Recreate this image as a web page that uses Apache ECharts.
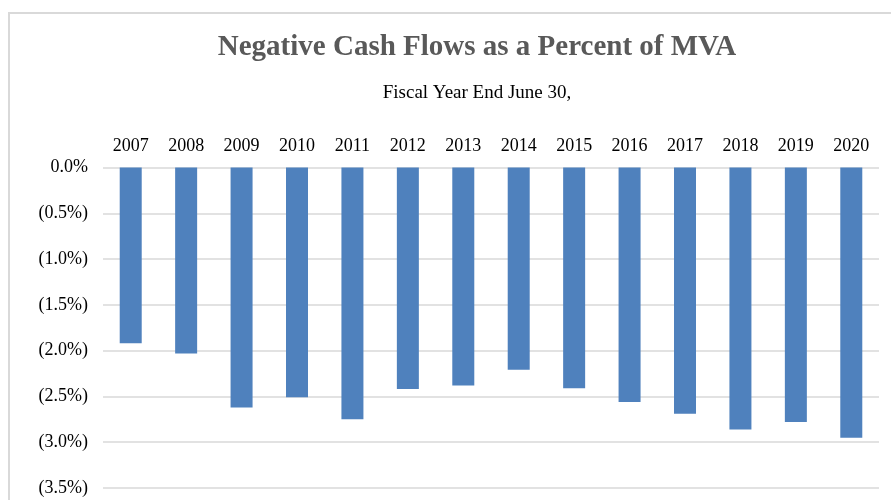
<!DOCTYPE html>
<html>
<head>
<meta charset="utf-8">
<script src="https://cdn.jsdelivr.net/npm/echarts@6/dist/echarts.min.js"></script>
<style>
  html, body { margin: 0; padding: 0; width: 891px; height: 500px; overflow: hidden; background: #fff; }
  #frame { position: absolute; left: 8px; top: 12px; width: 1000px; height: 600px; border: 2px solid #d9d9d9; box-sizing: border-box; }
  #chart { position: absolute; left: 0; top: 0; width: 891px; height: 500px; }
</style>
</head>
<body>
<div id="frame"></div>
<div id="chart"></div>
<script>
// Fiscal years shown across the top axis
const years = ['2007', '2008', '2009', '2010', '2011', '2012', '2013',
               '2014', '2015', '2016', '2017', '2018', '2019', '2020'];

// Negative cash flows as a percent of market value of assets (%)
const cashFlowPct = [-1.92, -2.03, -2.62, -2.51, -2.75, -2.42, -2.38,
                     -2.21, -2.41, -2.56, -2.69, -2.86, -2.78, -2.95];

// Value-axis tick labels, from 0 downward in 0.5 steps
const tickValues = [0, -0.5, -1.0, -1.5, -2.0, -2.5, -3.0, -3.5];
const tickLabels = ['0.0%', '(0.5%)', '(1.0%)', '(1.5%)', '(2.0%)', '(2.5%)', '(3.0%)', '(3.5%)'];

const serif = '"Liberation Serif", "Times New Roman", serif';

const chart = echarts.init(document.getElementById('chart'), null, { renderer: 'canvas' });

chart.setOption({
  backgroundColor: 'transparent',
  animation: false,
  title: [
    {
      text: 'Negative Cash Flows as a Percent of MVA',
      left: 472,
      textAlign: 'center',
      top: 28,
      textStyle: { fontFamily: serif, fontSize: 29, fontWeight: 'bold', color: '#595959' }
    },
    {
      text: 'Fiscal Year End June 30,',
      left: 472,
      textAlign: 'center',
      top: 79,
      textStyle: { fontFamily: serif, fontSize: 19, fontWeight: 'normal', color: '#000' }
    }
  ],
  grid: { left: 103, right: 12, top: 167.5, bottom: 12, containLabel: false },
  xAxis: {
    type: 'category',
    position: 'top',
    data: years,
    axisLine: { show: false },
    axisTick: { show: false },
    axisLabel: { fontFamily: serif, fontSize: 18, color: '#000', margin: 12 }
  },
  yAxis: {
    type: 'value',
    min: -3.5,
    max: 0,
    interval: 0.5,
    axisLine: { show: false },
    axisTick: { show: false },
    splitLine: { lineStyle: { color: '#d9d9d9', width: 1.5 } },
    axisLabel: {
      fontFamily: serif,
      fontSize: 18,
      color: '#000',
      margin: 15,
      formatter: function (v) {
        const i = tickValues.findIndex(function (t) { return Math.abs(t - v) < 1e-9; });
        return i >= 0 ? tickLabels[i] : '';
      }
    }
  },
  series: [
    {
      type: 'bar',
      data: cashFlowPct,
      barWidth: 22,
      itemStyle: { color: '#4f81bd' }
    }
  ]
});
</script>
</body>
</html>
